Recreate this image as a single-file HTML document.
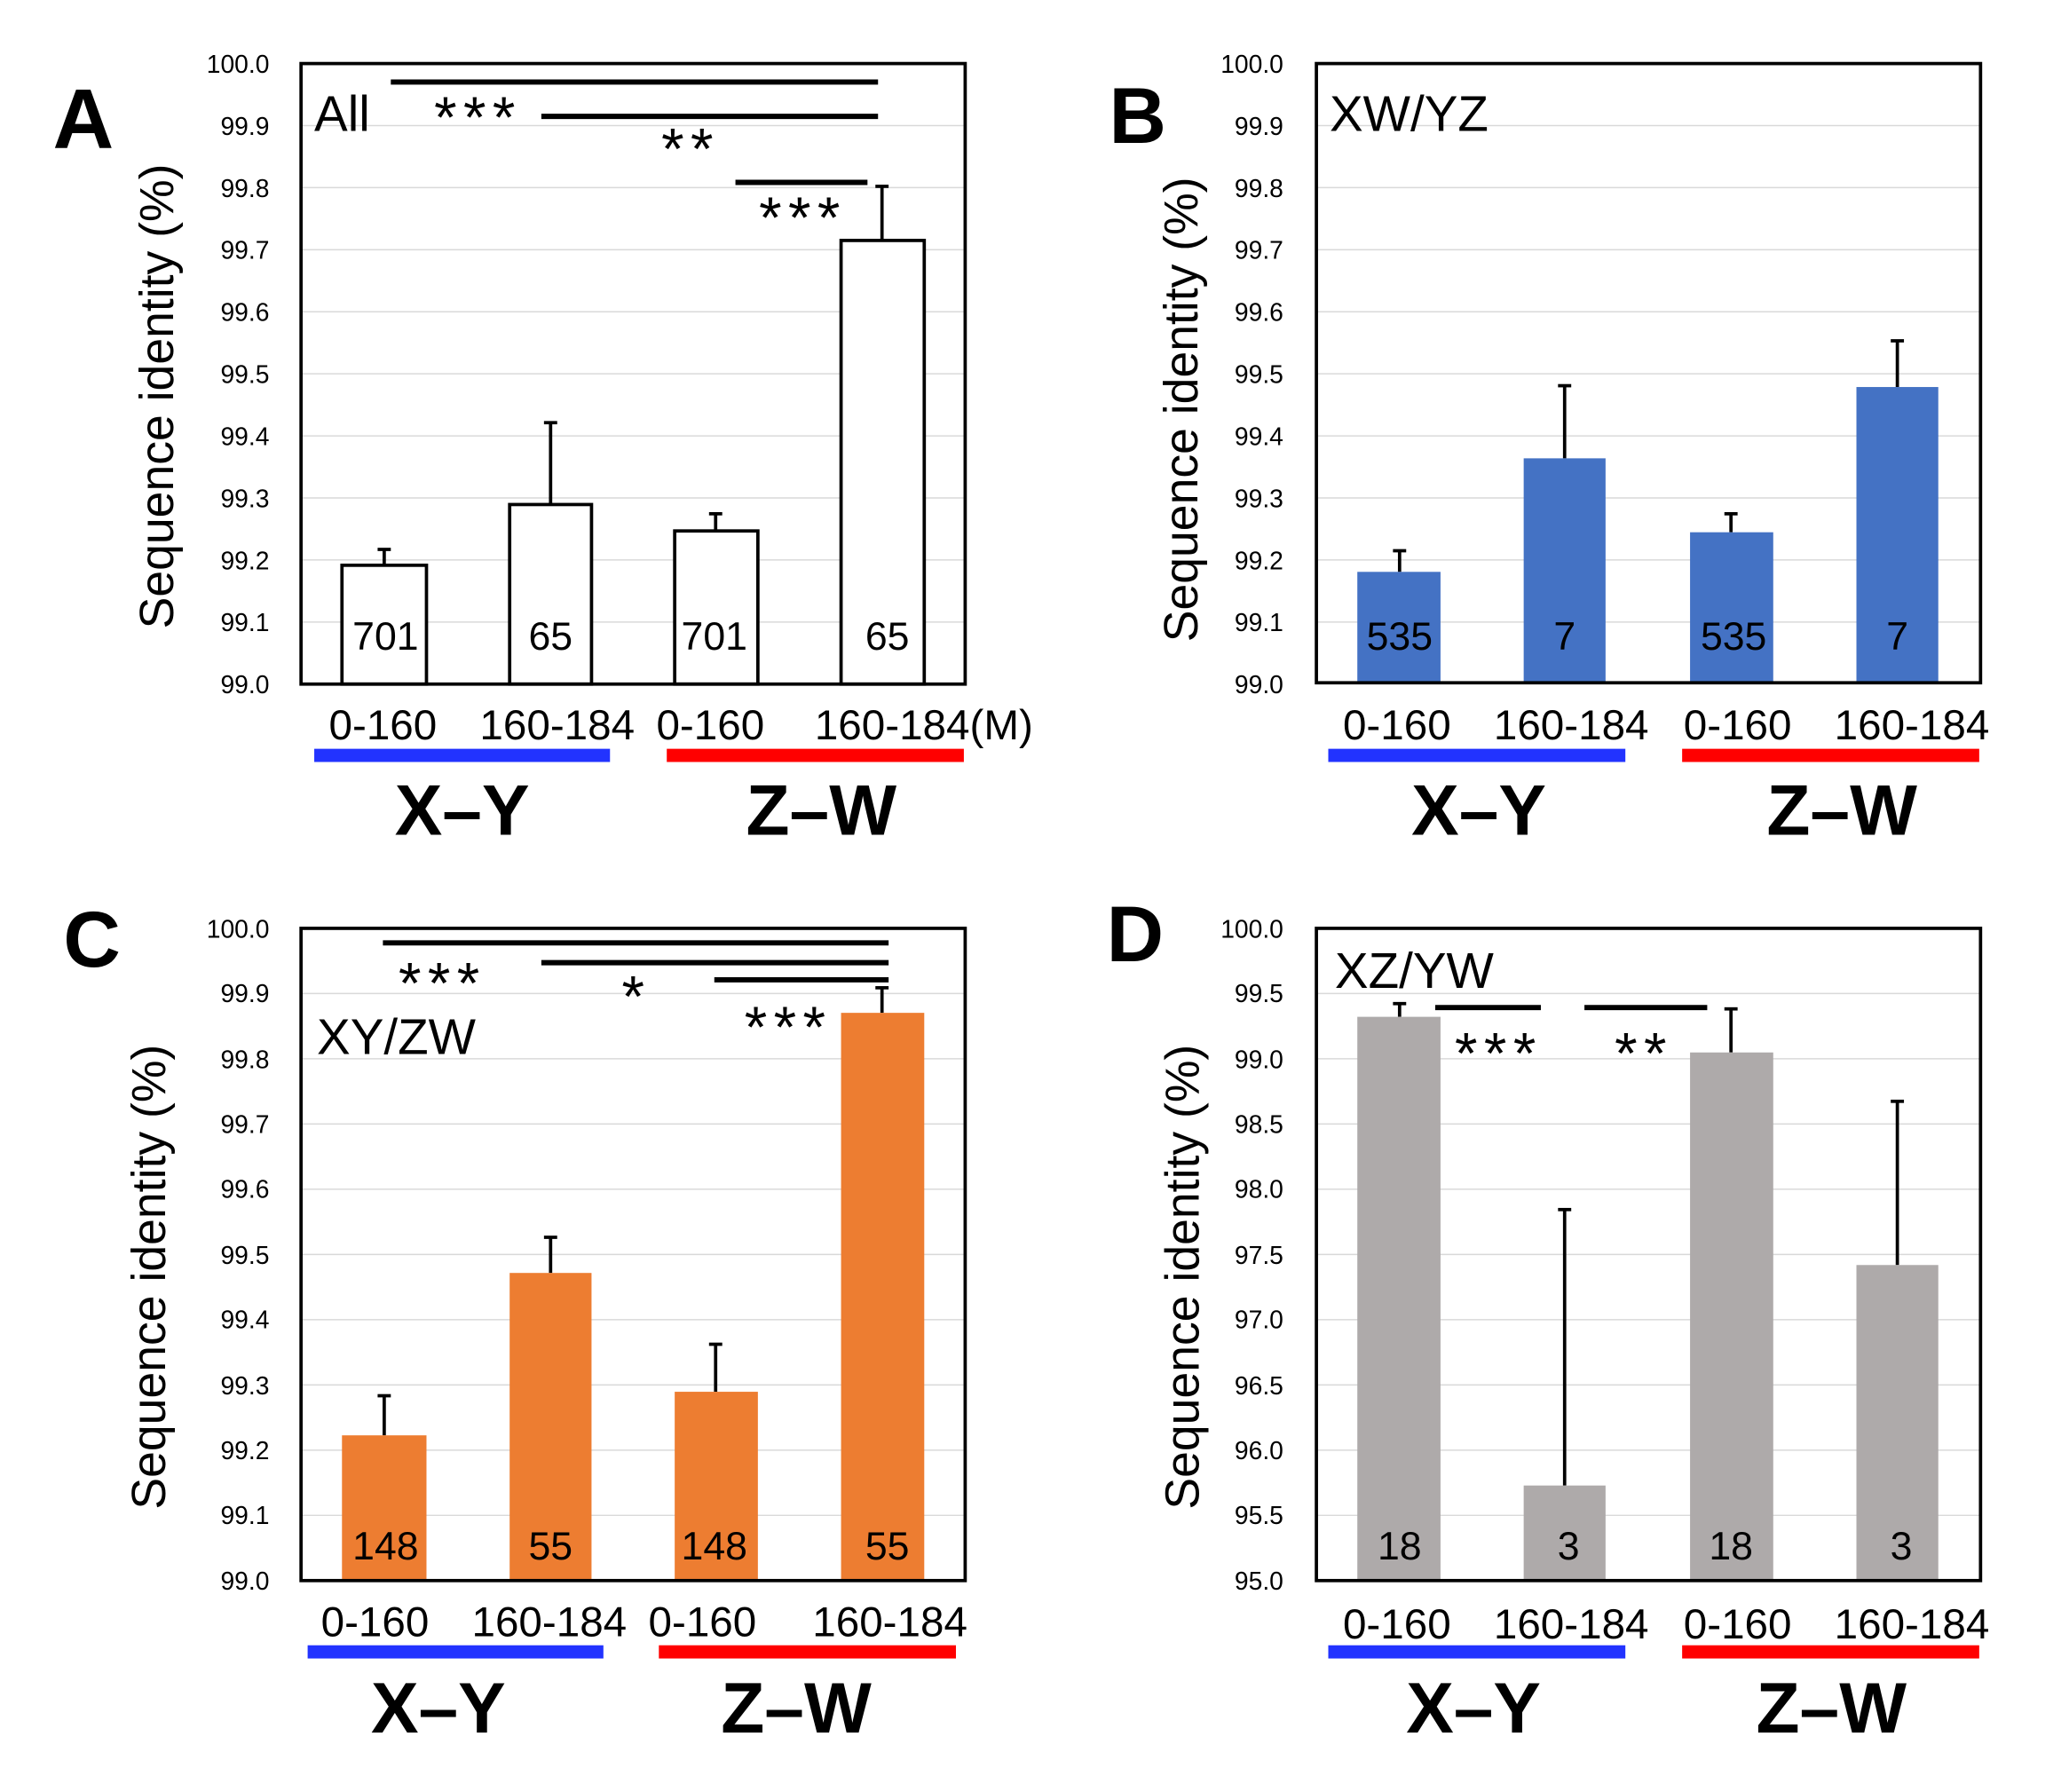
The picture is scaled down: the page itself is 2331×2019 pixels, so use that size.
<!DOCTYPE html>
<html><head><meta charset="utf-8"><style>
html,body{margin:0;padding:0;background:#fff;}
svg{display:block;}
text{font-family:"Liberation Sans","DejaVu Sans",sans-serif;}
.st{font-size:44px;letter-spacing:5px;}
</style></head><body>
<svg width="2331" height="2019" viewBox="0 0 1567 1357" xmlns="http://www.w3.org/2000/svg">
<rect width="1567" height="1357" fill="#fff"/>
<g id="A">
<g stroke="#d9d9d9" stroke-width="1">
<line x1="228" x2="731" y1="95" y2="95"/><line x1="228" x2="731" y1="142" y2="142"/><line x1="228" x2="731" y1="189" y2="189"/><line x1="228" x2="731" y1="236" y2="236"/><line x1="228" x2="731" y1="283" y2="283"/><line x1="228" x2="731" y1="330" y2="330"/><line x1="228" x2="731" y1="377" y2="377"/><line x1="228" x2="731" y1="424" y2="424"/><line x1="228" x2="731" y1="471" y2="471"/>
</g>
<g font-size="19" text-anchor="end">
<text x="204" y="55">100.0</text><text x="204" y="102">99.9</text><text x="204" y="149">99.8</text><text x="204" y="196">99.7</text><text x="204" y="243">99.6</text><text x="204" y="290">99.5</text><text x="204" y="337">99.4</text><text x="204" y="384">99.3</text><text x="204" y="431">99.2</text><text x="204" y="478">99.1</text><text x="204" y="525">99.0</text>
</g>
<g stroke="#000" stroke-width="2.5" fill="#fff">
<line x1="291" x2="291" y1="428" y2="416"/><line x1="286" x2="296" y1="416" y2="416"/>
<line x1="417" x2="417" y1="382" y2="320"/><line x1="412" x2="422" y1="320" y2="320"/>
<line x1="542" x2="542" y1="402" y2="389"/><line x1="537" x2="547" y1="389" y2="389"/>
<line x1="668" x2="668" y1="182" y2="141"/><line x1="663" x2="673" y1="141" y2="141"/>
<rect x="259" y="428" width="64" height="90"/><rect x="386" y="382" width="62" height="136"/><rect x="511" y="402" width="63" height="116"/><rect x="637" y="182" width="63" height="336"/>
</g>
<rect x="228" y="48" width="503" height="470" fill="none" stroke="#000" stroke-width="2.5"/>
<g font-size="30" text-anchor="middle"><text x="292" y="492">701</text><text x="417" y="492">65</text><text x="541" y="492">701</text><text x="672" y="492">65</text></g>
<text x="238" y="99" font-size="38">All</text>
<g stroke="#000" stroke-width="4"><line x1="296" x2="665" y1="62" y2="62"/><line x1="410" x2="665" y1="88" y2="88"/><line x1="557" x2="657" y1="138" y2="138"/></g>
<g class="st" text-anchor="middle"><text x="362" y="104">***</text><text x="523" y="128">**</text><text x="608" y="180">***</text></g>
<g font-size="32" text-anchor="middle"><text x="290" y="560">0-160</text><text x="422" y="560">160-184</text><text x="538" y="560">0-160</text></g>
<text x="617" y="560" font-size="32">160-184(M)</text>
<rect x="238" y="567" width="224" height="10" fill="#2233ff"/><rect x="505" y="567" width="225" height="10" fill="#ff0000"/>
<g font-size="54" font-weight="bold" text-anchor="middle"><text x="350" y="632">X–Y</text><text x="622" y="632">Z–W</text></g>
<text x="40" y="112" font-size="64" font-weight="bold">A</text>
<text transform="translate(131,300) rotate(-90)" font-size="36" text-anchor="middle">Sequence identity (%)</text>
</g>

<g id="B">
<g stroke="#d9d9d9" stroke-width="1">
<line x1="997" x2="1500" y1="95" y2="95"/><line x1="997" x2="1500" y1="142" y2="142"/><line x1="997" x2="1500" y1="189" y2="189"/><line x1="997" x2="1500" y1="236" y2="236"/><line x1="997" x2="1500" y1="283" y2="283"/><line x1="997" x2="1500" y1="330" y2="330"/><line x1="997" x2="1500" y1="377" y2="377"/><line x1="997" x2="1500" y1="424" y2="424"/><line x1="997" x2="1500" y1="471" y2="471"/>
</g>
<g font-size="19" text-anchor="end">
<text x="972" y="55">100.0</text><text x="972" y="102">99.9</text><text x="972" y="149">99.8</text><text x="972" y="196">99.7</text><text x="972" y="243">99.6</text><text x="972" y="290">99.5</text><text x="972" y="337">99.4</text><text x="972" y="384">99.3</text><text x="972" y="431">99.2</text><text x="972" y="478">99.1</text><text x="972" y="525">99.0</text>
</g>
<g stroke="#000" stroke-width="2.5">
<line x1="1060" x2="1060" y1="433" y2="417"/><line x1="1055" x2="1065" y1="417" y2="417"/>
<line x1="1185" x2="1185" y1="347" y2="292"/><line x1="1180" x2="1190" y1="292" y2="292"/>
<line x1="1311" x2="1311" y1="403" y2="389"/><line x1="1306" x2="1316" y1="389" y2="389"/>
<line x1="1437" x2="1437" y1="293" y2="258"/><line x1="1432" x2="1442" y1="258" y2="258"/>
</g>
<g fill="#4472C4"><rect x="1028" y="433" width="63" height="84"/><rect x="1154" y="347" width="62" height="170"/><rect x="1280" y="403" width="63" height="114"/><rect x="1406" y="293" width="62" height="224"/></g>
<rect x="997" y="48" width="503" height="469" fill="none" stroke="#000" stroke-width="2.5"/>
<g font-size="30" text-anchor="middle"><text x="1060" y="492">535</text><text x="1185" y="492">7</text><text x="1313" y="492">535</text><text x="1437" y="492">7</text></g>
<text x="1007" y="99" font-size="38">XW/YZ</text>
<g font-size="32" text-anchor="middle"><text x="1058" y="560">0-160</text><text x="1190" y="560">160-184</text><text x="1316" y="560">0-160</text><text x="1448" y="560">160-184</text></g>
<rect x="1006" y="567" width="225" height="10" fill="#2233ff"/><rect x="1274" y="567" width="225" height="10" fill="#ff0000"/>
<g font-size="54" font-weight="bold" text-anchor="middle"><text x="1120" y="632">X–Y</text><text x="1395" y="632">Z–W</text></g>
<text x="840" y="108" font-size="60" font-weight="bold">B</text>
<text transform="translate(907,310) rotate(-90)" font-size="36" text-anchor="middle">Sequence identity (%)</text>
</g>

<g id="C">
<g stroke="#d9d9d9" stroke-width="1">
<line x1="228" x2="731" y1="752.4" y2="752.4"/><line x1="228" x2="731" y1="801.8" y2="801.8"/><line x1="228" x2="731" y1="851.2" y2="851.2"/><line x1="228" x2="731" y1="900.6" y2="900.6"/><line x1="228" x2="731" y1="950" y2="950"/><line x1="228" x2="731" y1="999.4" y2="999.4"/><line x1="228" x2="731" y1="1048.8" y2="1048.8"/><line x1="228" x2="731" y1="1098.2" y2="1098.2"/><line x1="228" x2="731" y1="1147.6" y2="1147.6"/>
</g>
<g font-size="19" text-anchor="end">
<text x="204" y="710">100.0</text><text x="204" y="759">99.9</text><text x="204" y="809">99.8</text><text x="204" y="858">99.7</text><text x="204" y="907">99.6</text><text x="204" y="957">99.5</text><text x="204" y="1006">99.4</text><text x="204" y="1056">99.3</text><text x="204" y="1105">99.2</text><text x="204" y="1154">99.1</text><text x="204" y="1204">99.0</text>
</g>
<g stroke="#000" stroke-width="2.5">
<line x1="291" x2="291" y1="1087" y2="1057"/><line x1="286" x2="296" y1="1057" y2="1057"/>
<line x1="417" x2="417" y1="964" y2="937"/><line x1="412" x2="422" y1="937" y2="937"/>
<line x1="542" x2="542" y1="1054" y2="1018"/><line x1="537" x2="547" y1="1018" y2="1018"/>
<line x1="668" x2="668" y1="767" y2="748"/><line x1="663" x2="673" y1="748" y2="748"/>
</g>
<g fill="#ED7D31"><rect x="259" y="1087" width="64" height="110"/><rect x="386" y="964" width="62" height="233"/><rect x="511" y="1054" width="63" height="143"/><rect x="637" y="767" width="63" height="430"/></g>
<rect x="228" y="703" width="503" height="494" fill="none" stroke="#000" stroke-width="2.5"/>
<g font-size="30" text-anchor="middle"><text x="292" y="1181">148</text><text x="417" y="1181">55</text><text x="541" y="1181">148</text><text x="672" y="1181">55</text></g>
<text x="240" y="798" font-size="38">XY/ZW</text>
<g stroke="#000" stroke-width="4"><line x1="290" x2="673" y1="714" y2="714"/><line x1="410" x2="673" y1="729" y2="729"/><line x1="541" x2="673" y1="742" y2="742"/></g>
<g class="st" text-anchor="middle"><text x="335" y="760">***</text><text x="482" y="770">*</text><text x="597" y="793">***</text></g>
<g font-size="32" text-anchor="middle"><text x="284" y="1239">0-160</text><text x="416" y="1239">160-184</text><text x="532" y="1239">0-160</text><text x="674" y="1239">160-184</text></g>
<rect x="233" y="1246" width="224" height="10" fill="#2233ff"/><rect x="499" y="1246" width="225" height="10" fill="#ff0000"/>
<g font-size="54" font-weight="bold" text-anchor="middle"><text x="332" y="1312">X–Y</text><text x="603" y="1312">Z–W</text></g>
<text x="48" y="732" font-size="60" font-weight="bold">C</text>
<text transform="translate(125,967) rotate(-90)" font-size="36" text-anchor="middle">Sequence identity (%)</text>
</g>

<g id="D">
<g stroke="#d9d9d9" stroke-width="1">
<line x1="997" x2="1500" y1="752.4" y2="752.4"/><line x1="997" x2="1500" y1="801.8" y2="801.8"/><line x1="997" x2="1500" y1="851.2" y2="851.2"/><line x1="997" x2="1500" y1="900.6" y2="900.6"/><line x1="997" x2="1500" y1="950" y2="950"/><line x1="997" x2="1500" y1="999.4" y2="999.4"/><line x1="997" x2="1500" y1="1048.8" y2="1048.8"/><line x1="997" x2="1500" y1="1098.2" y2="1098.2"/><line x1="997" x2="1500" y1="1147.6" y2="1147.6"/>
</g>
<g font-size="19" text-anchor="end">
<text x="972" y="710">100.0</text><text x="972" y="759">99.5</text><text x="972" y="809">99.0</text><text x="972" y="858">98.5</text><text x="972" y="907">98.0</text><text x="972" y="957">97.5</text><text x="972" y="1006">97.0</text><text x="972" y="1056">96.5</text><text x="972" y="1105">96.0</text><text x="972" y="1154">95.5</text><text x="972" y="1204">95.0</text>
</g>
<g stroke="#000" stroke-width="2.5">
<line x1="1060" x2="1060" y1="770" y2="760"/><line x1="1055" x2="1065" y1="760" y2="760"/>
<line x1="1185" x2="1185" y1="1125" y2="916"/><line x1="1180" x2="1190" y1="916" y2="916"/>
<line x1="1311" x2="1311" y1="797" y2="764"/><line x1="1306" x2="1316" y1="764" y2="764"/>
<line x1="1437" x2="1437" y1="958" y2="834"/><line x1="1432" x2="1442" y1="834" y2="834"/>
</g>
<g fill="#AEAAAA"><rect x="1028" y="770" width="63" height="427"/><rect x="1154" y="1125" width="62" height="72"/><rect x="1280" y="797" width="63" height="400"/><rect x="1406" y="958" width="62" height="239"/></g>
<rect x="997" y="703" width="503" height="494" fill="none" stroke="#000" stroke-width="2.5"/>
<g font-size="30" text-anchor="middle"><text x="1060" y="1181">18</text><text x="1188" y="1181">3</text><text x="1311" y="1181">18</text><text x="1440" y="1181">3</text></g>
<text x="1011" y="748" font-size="38">XZ/YW</text>
<g stroke="#000" stroke-width="4"><line x1="1087" x2="1167" y1="763" y2="763"/><line x1="1200" x2="1293" y1="763" y2="763"/></g>
<g class="st" text-anchor="middle"><text x="1135" y="813">***</text><text x="1245" y="813">**</text></g>
<g font-size="32" text-anchor="middle"><text x="1058" y="1241">0-160</text><text x="1190" y="1241">160-184</text><text x="1316" y="1241">0-160</text><text x="1448" y="1241">160-184</text></g>
<rect x="1006" y="1246" width="225" height="10" fill="#2233ff"/><rect x="1274" y="1246" width="225" height="10" fill="#ff0000"/>
<g font-size="54" font-weight="bold" text-anchor="middle"><text x="1116" y="1312">X–Y</text><text x="1387" y="1312">Z–W</text></g>
<text x="838" y="728" font-size="60" font-weight="bold">D</text>
<text transform="translate(908,967) rotate(-90)" font-size="36" text-anchor="middle">Sequence identity (%)</text>
</g>
</svg>
</body></html>
